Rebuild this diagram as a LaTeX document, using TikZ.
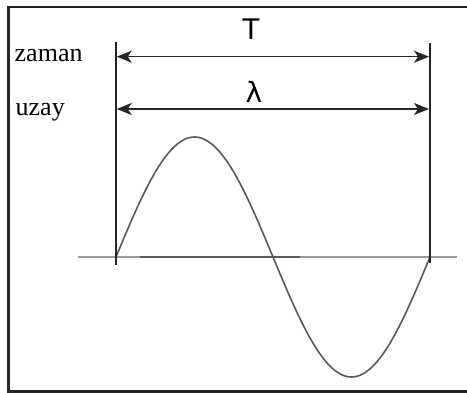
\documentclass[tikz,border=0pt]{standalone}
\usepackage{fontspec}
\setmainfont{Liberation Serif}
\newfontfamily\sansf{Liberation Sans}
\newfontfamily\dejaf{DejaVu Sans}
\usetikzlibrary{arrows.meta}
\begin{document}
\begin{tikzpicture}[x=1pt,y=-1pt,
  frame/.style={line width=2.5pt,black!85},
  guide/.style={line width=2pt,black!85},
  dim/.style={line width=1.6pt,black!85,{Stealth[length=15pt,width=12pt,inset=4pt]}-{Stealth[length=15pt,width=12pt,inset=4pt]}},
  axislight/.style={line width=1.8pt,black!40},
  axisdark/.style={line width=1.8pt,black!65},
  wave/.style={line width=1.6pt,black!65},
  lbl/.style={inner sep=0pt,anchor=base west,font=\fontsize{26}{28}\selectfont},
  sym/.style={inner sep=0pt,anchor=base,font=\sansf\fontsize{30}{32}\selectfont}]
\useasboundingbox (0,0) rectangle (467,393);
% frame (left, top, bottom)
\draw[frame] (467,7) -- (8.7,7) -- (8.7,391.7) -- (467,391.7);
% axis
\coordinate (ax1) at (78,257);
\coordinate (ax2) at (140,257);
\coordinate (ax3) at (300,257);
\coordinate (ax4) at (457,257);
\draw[axislight] (ax1) -- (ax4);
\draw[axisdark] (ax2) -- (ax3);
% sine wave
\draw[wave] plot[domain=0:314,samples=120,smooth] ({116+\x},{257-120*sin(\x/314*360)});
% guide verticals
\coordinate (lt) at (115.7,41.7);
\coordinate (lb) at (115.7,265);
\coordinate (rt) at (430,43);
\coordinate (rb) at (430,263);
\draw[guide] (lt) -- (lb);
\draw[guide] (rt) -- (rb);
% dimension arrows
\coordinate (tl) at (116.7,56.7);
\coordinate (tr) at (429,56.7);
\coordinate (ll) at (116.7,109);
\coordinate (lr) at (429,109);
\draw[dim] (tl) -- (tr);
\draw[dim] (ll) -- (lr);
% labels
\node[sym] (T) at (251,39.3) {T};
\node[sym,font=\dejaf\fontsize{28}{30}\selectfont] (lam) at (254,102.7) {λ};
\node[lbl] (zaman) at (14.5,62) {zaman};
\node[lbl] (uzay) at (15.5,115.5) {uzay};
\end{tikzpicture}
\end{document}
